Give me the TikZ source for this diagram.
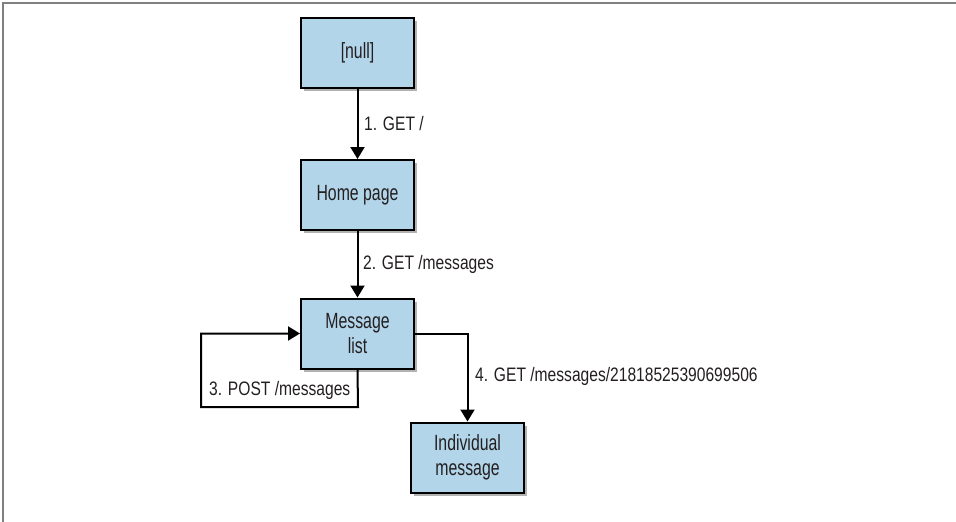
\documentclass[tikz,border=0pt]{standalone}
\usepackage{fontspec}
\setmainfont{Liberation Sans}[FakeStretch=0.8]
\newfontfamily\boxfont{Liberation Sans}[FakeStretch=0.72]
\usetikzlibrary{arrows.meta,shadows}
\definecolor{boxblue}{HTML}{B3D5EA}
\definecolor{ink}{HTML}{231F20}
\begin{document}
\begin{tikzpicture}[x=1pt,y=-1pt,
  box/.style={draw=black, line width=2pt, fill=boxblue, minimum width=113pt, minimum height=70pt,
    align=center, font=\boxfont\fontsize{22}{25}\selectfont, text=ink,
    drop shadow={shadow xshift=3pt, shadow yshift=-3pt, fill=black, opacity=0.3}},
  conn/.style={line width=2pt, draw=black, -{Triangle[width=14pt,length=12pt]}},
  lbl/.style={font=\fontsize{19.5}{23}\selectfont, text=ink, anchor=west, inner sep=0pt}]
\useasboundingbox (0,0) rectangle (956,522);
\draw[gray, line width=2pt] (2.5,522) -- (2.5,2.5) -- (956,2.5);

\node[box] (null) at (357.5,53) {[null]};
\node[box] (home) at (357.5,195) {Home page};
\node[box] (list) at (357.5,333.5) {Message\\list};
\node[box] (indiv) at (467.5,457.5) {Individual\\message};

\draw[conn] (null) -- (home);
\node[lbl] (l1) at (364,123.5) {1. GET /};
\draw[conn] (home) -- (list);
\node[lbl] (l2) at (363,264) {2. GET /messages};
\coordinate (lb) at (358,407);
\coordinate (ll) at (201,407);
\draw[conn] (list.south) -- (lb) -- (ll) |- (list.west);
\node[lbl] (l3) at (209,390.5) {3. POST /messages};
\draw[conn] (list.east) -| (indiv.north);
\node[lbl] (l4) at (475,376) {4. GET /messages/21818525390699506};
\end{tikzpicture}
\end{document}
